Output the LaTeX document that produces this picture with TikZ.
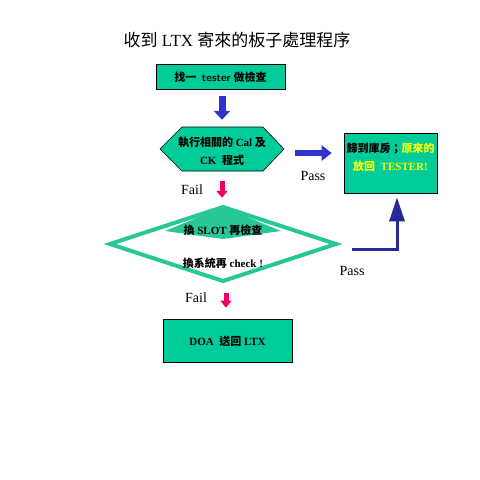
\documentclass[tikz,border=0pt]{standalone}
\usepackage{fontspec}
\setmainfont{Liberation Serif}
\newfontfamily\cjk{Noto Sans CJK TC}
\usetikzlibrary{arrows.meta}
\definecolor{tgreen}{RGB}{0,204,153}
\definecolor{dgreen}{RGB}{40,200,150}
\definecolor{barrow}{RGB}{51,51,204}
\definecolor{navy}{RGB}{40,40,150}
\definecolor{pinkar}{RGB}{240,0,100}
\definecolor{ytext}{RGB}{255,255,0}
\begin{document}
\begin{tikzpicture}[x=1pt,y=-1pt,
  box/.style={draw=black, line width=0.6pt, fill=tgreen, inner sep=0pt},
  btext/.style={font=\bfseries\fontsize{11}{18}\selectfont, align=center, inner sep=0pt},
  label/.style={font=\fontsize{14}{16}\selectfont, inner sep=0pt},
  bluearrow/.style={barrow, line width=7pt, -{Triangle[width=16pt,length=9pt]}},
  pinkarrow/.style={pinkar, line width=5pt, -{Triangle[width=11pt,length=7pt]}},
  elbow/.style={navy, line width=3pt, -{Triangle[width=15pt,length=24pt]}}
]
\useasboundingbox (0,0) rectangle (480,480);

% title
\node[font=\fontsize{17}{20}\selectfont, inner sep=0pt] (title) at (237,40)
  {{\cjk 收到} LTX {\cjk 寄來的板子處理程序}};

% box 1
\node[box, minimum width=129pt, minimum height=25pt] (box1) at (220.5,76.5) {};
\node[btext] (box1t) at (220.5,77) {{\cjk 找一}\ \ \textsf{tester} {\cjk 做檢查}};

% hexagon
\filldraw[draw=black, line width=0.6pt, fill=tgreen]
  (160,149) -- (182,127) -- (263,127) -- (284,149) -- (263,171) -- (182,171) -- cycle;
\node[minimum width=124pt, minimum height=44pt, inner sep=0pt] (hex) at (222,149) {};
\node[btext] (hext) at (222,151) {{\cjk 執行相關的} Cal {\cjk 及}\\CK\ \ {\cjk 程式}};

% right box
\node[box, minimum width=93pt, minimum height=60pt] (rbox) at (390.5,163) {};
\node[btext] (rboxt) at (390.5,157)
  {{\cjk 歸到庫房；}\textcolor{ytext}{\cjk 原來的}\\\textcolor{ytext}{{\cjk 放回}\ \ TESTER!}};

% diamond
\filldraw[draw=dgreen, line width=4pt, fill=white, line join=miter]
  (110,244) -- (223,207) -- (336,244) -- (223,281) -- cycle;
\fill[dgreen] (223,207) -- (165,231) -- (223,239) -- (281,231) -- cycle;
\node[minimum width=226pt, minimum height=74pt, inner sep=0pt] (dia) at (223,244) {};
\node[btext] (diat1) at (223,230) {{\cjk 換} SLOT {\cjk 再檢查}};
\node[btext] (diat2) at (223,263) {{\cjk 換系統再} check !};

% bottom box
\node[box, minimum width=129pt, minimum height=43pt] (box2) at (227.5,340.5) {};
\node[btext] (box2t) at (227.5,341) {DOA\ \ {\cjk 送回} LTX};

% arrows
\draw[bluearrow, shorten <=7pt, shorten >=7pt] (box1.south -| 222,0) -- (hex.north -| 222,0);
\draw[bluearrow, line width=6pt, -{Triangle[width=15pt,length=10pt]}, shorten <=11pt, shorten >=12pt]
  (hex.east |- 0,153) -- (rbox.west |- 0,153);
\draw[pinkarrow, shorten <=10pt, shorten >=9pt] (hex.south -| 222,0) -- (dia.north -| 222,0);
\draw[pinkarrow, shorten <=12pt, shorten >=11pt] (dia.south -| 226,0) -- (box2.north -| 226,0);
\coordinate (pstart) at (352,249);
\draw[elbow, shorten >=4pt] (pstart) -| (rbox.south -| 397,0);

% labels
\node[label] (fail1) at (192,190) {Fail};
\node[label] (pass1) at (313,176) {Pass};
\node[label] (pass2) at (352,271) {Pass};
\node[label] (fail2) at (196,298) {Fail};
\end{tikzpicture}
\end{document}
